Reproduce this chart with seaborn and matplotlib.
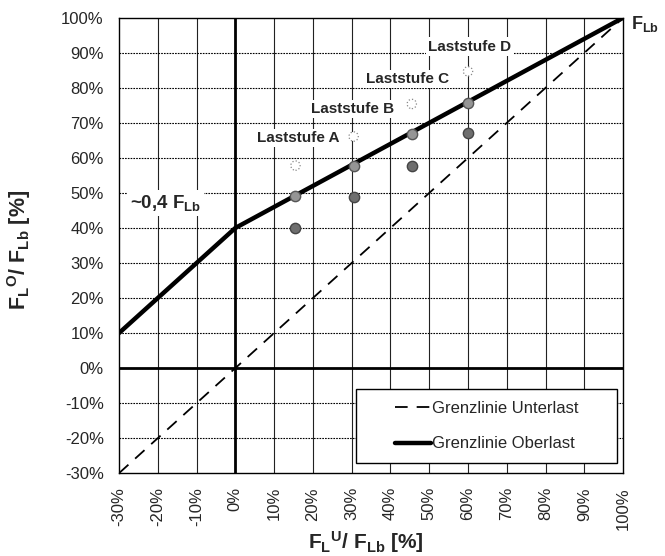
import numpy as np
import pandas as pd
import seaborn as sns
import matplotlib
matplotlib.use("Agg")
import matplotlib.pyplot as plt
from matplotlib.patches import Rectangle
from matplotlib.ticker import FuncFormatter, MultipleLocator

# Grenzlinien
ober_x = [-30, 0, 100]
ober_y = [10, 40, 100]
unter_x = [-30, 100]
unter_y = [-30, 100]

# Messpunkte der Laststufen
stufe_x = [15.5, 30.5, 45.5, 60]
dunkel_y = [40, 48.7, 57.8, 67]
mittel_y = [49, 57.8, 66.8, 75.8]
hell_y = [57.8, 66.1, 75.4, 84.7]

stufen = ["Laststufe A", "Laststufe B", "Laststufe C", "Laststufe D"]
stufe_lx = [16.2, 30.1, 44.5, 60.5]
stufe_ly = [65.7, 74.0, 82.6, 91.8]

sns.set_theme(style="white")
plt.rcParams["font.family"] = ["Liberation Sans", "DejaVu Sans"]
plt.rcParams["mathtext.fontset"] = "custom"
plt.rcParams["mathtext.rm"] = "Liberation Sans"
plt.rcParams["mathtext.bf"] = "Liberation Sans:bold"
plt.rcParams["mathtext.it"] = "Liberation Sans:italic"

fig = plt.figure(figsize=(6.65, 5.56), dpi=100)
ax = fig.add_axes([0.179, 0.149, 0.758, 0.819])

ax.set_xlim(-30, 100)
ax.set_ylim(-30, 100)
ax.xaxis.set_major_locator(MultipleLocator(10))
ax.yaxis.set_major_locator(MultipleLocator(10))
pct = FuncFormatter(lambda v, p: f"{v:.0f}%")
ax.xaxis.set_major_formatter(pct)
ax.yaxis.set_major_formatter(pct)

# grid
for v in np.arange(-20, 100, 10):
    ax.axvline(v, color="#222222", lw=0.8, zorder=1)
    ax.axhline(v, color="black", lw=0.8, ls=(0, (1.5, 1)), zorder=1)
ax.axvline(0, color="black", lw=2, zorder=2)
ax.axhline(0, color="black", lw=2, zorder=2)

df_u = pd.DataFrame({"x": unter_x, "y": unter_y})
df_o = pd.DataFrame({"x": ober_x, "y": ober_y})
sns.lineplot(data=df_u, x="x", y="y", ax=ax, color="black", lw=1.3,
             ls=(0, (7, 5)), label="Grenzlinie Unterlast", zorder=3)
sns.lineplot(data=df_o, x="x", y="y", ax=ax, color="black", lw=3.2,
             label="Grenzlinie Oberlast", zorder=3)

sns.scatterplot(x=stufe_x, y=dunkel_y, ax=ax, s=55, color="#6e6e6e",
                edgecolor="#444444", linewidth=1, zorder=4, legend=False)
sns.scatterplot(x=stufe_x, y=mittel_y, ax=ax, s=55, color="#959595",
                edgecolor="#555555", linewidth=1, zorder=4, legend=False)
sns.scatterplot(x=stufe_x, y=hell_y, ax=ax, s=45, color="white",
                edgecolor="#888888", linewidth=0.9, linestyle=":", zorder=4,
                legend=False)

for t, lx, ly in zip(stufen, stufe_lx, stufe_ly):
    ax.text(lx, ly, t, ha="center", va="center", fontsize=11, fontweight="bold",
            bbox=dict(facecolor="white", edgecolor="none", pad=1.5), zorder=5)

ax.text(-27.3, 47.1, r"~0,4 F$_{\mathbf{Lb}}$", ha="left", va="center",
        fontsize=13.5, fontweight="bold",
        bbox=dict(facecolor="white", edgecolor="none", pad=2), zorder=5)
ax.text(102.0, 98.2, r"F$_{\mathbf{Lb}}$", ha="left", va="center", fontsize=13,
        fontweight="bold", clip_on=False)

ax.set_xlabel(r"$\mathbf{F_L}^{\mathbf{U}}\mathbf{/\ F_{Lb}}$ [%]", fontsize=15,
              fontweight="bold")
ax.set_ylabel(r"$\mathbf{F_L}^{\mathbf{O}}\mathbf{/\ F_{Lb}}$ [%]", fontsize=15.5,
              fontweight="bold")
ax.xaxis.set_label_coords(0.49, -0.122)
ax.yaxis.set_label_coords(-0.17, 0.49)

ax.tick_params(axis="x", labelrotation=90, labelsize=12, length=0, pad=10)
ax.tick_params(axis="y", labelsize=12, length=0, pad=11)
for s in ax.spines.values():
    s.set_color("black")
    s.set_linewidth(1)

# legend box drawn separately so it can be wider than its content
box = Rectangle((0.470, 0.022), 0.518, 0.163, transform=ax.transAxes,
                facecolor="white", edgecolor="black", lw=1, zorder=6)
ax.add_patch(box)
leg = ax.legend(loc="center", bbox_to_anchor=(0.729, 0.1035), fontsize=12,
                frameon=False, handlelength=2.2, handletextpad=0.05,
                labelspacing=1.25, borderpad=0, borderaxespad=0)
leg.set_zorder(7)

fig.savefig("out.png", dpi=100)
